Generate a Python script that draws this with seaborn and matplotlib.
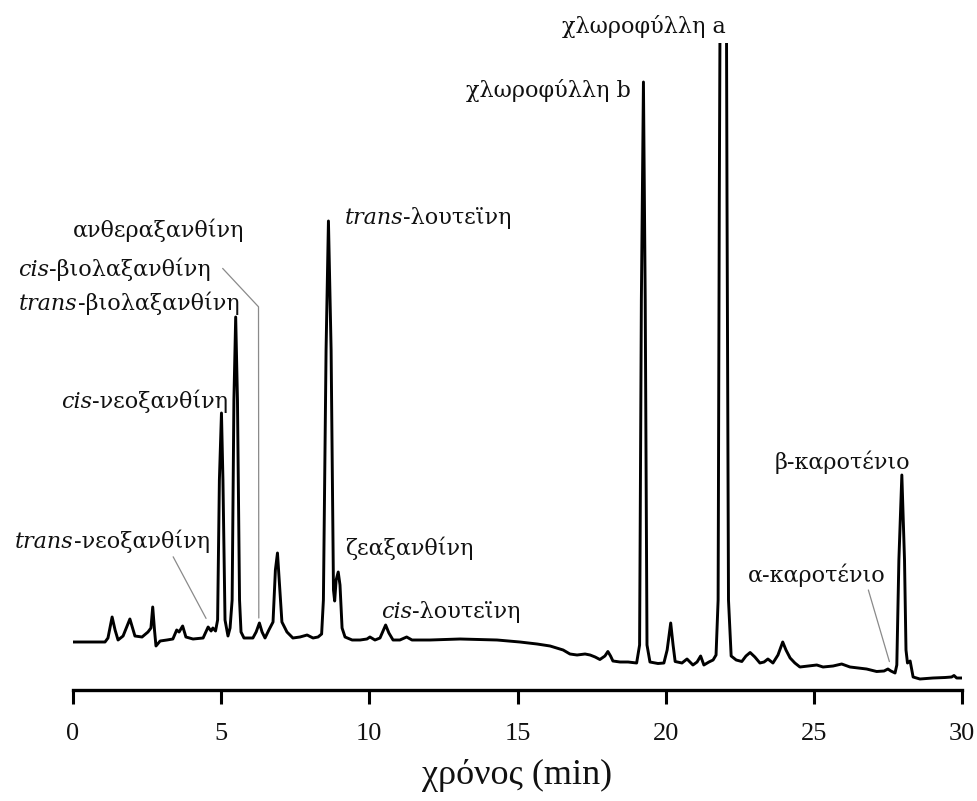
import matplotlib
matplotlib.use("Agg")
import matplotlib.pyplot as plt
from matplotlib.transforms import ScaledTranslation
import seaborn as sns
import pandas as pd

# ---------------- data ----------------
time_min = [0.00, 1.08, 1.18, 1.32, 1.42, 1.52, 1.69, 1.92, 2.09, 2.33,
            2.53, 2.63, 2.69, 2.75, 2.80, 2.94, 3.17, 3.37, 3.50, 3.58,
            3.70, 3.81, 4.05, 4.39, 4.56, 4.66, 4.72, 4.81, 4.88, 4.94,
            5.01, 5.06, 5.13, 5.23, 5.30, 5.37, 5.43, 5.49, 5.55, 5.62,
            5.67, 5.77, 6.07, 6.18, 6.29, 6.38, 6.48, 6.61, 6.75, 6.83,
            6.90, 6.96, 7.05, 7.22, 7.42, 7.66, 7.90, 8.10, 8.27, 8.39,
            8.45, 8.54, 8.62, 8.71, 8.79, 8.83, 8.88, 8.95, 9.01, 9.08,
            9.18, 9.42, 9.69, 9.92, 10.02, 10.19, 10.36, 10.55, 10.66, 10.80,
            11.03, 11.26, 11.44, 12.05, 13.06, 14.31, 15.08, 15.66, 16.10, 16.54,
            16.77, 17.01, 17.28, 17.45, 17.62, 17.78, 17.95, 18.05, 18.14, 18.22,
            18.46, 18.73, 19.02, 19.12, 19.18, 19.25, 19.31, 19.37, 19.47, 19.74,
            19.94, 20.05, 20.17, 20.25, 20.32, 20.55, 20.72, 20.92, 21.06, 21.18,
            21.29, 21.46, 21.60, 21.70, 21.77, 21.81, 21.85, 21.95, 22.04, 22.07,
            22.12, 22.21, 22.38, 22.57, 22.71, 22.85, 23.01, 23.18, 23.32, 23.45,
            23.62, 23.79, 23.95, 24.06, 24.20, 24.36, 24.53, 24.80, 25.10, 25.31,
            25.65, 25.94, 26.22, 26.49, 26.78, 27.12, 27.37, 27.50, 27.60, 27.74,
            27.80, 27.87, 27.97, 28.06, 28.11, 28.16, 28.25, 28.35, 28.58, 29.02,
            29.43, 29.65, 29.73, 29.82, 30.00]

signal = [0, 0, 2, 12.5, 6, 1, 3, 11.5, 3, 2.5,
          5, 7, 17.5, 6, -2, 0.5, 1, 1.5, 6, 5,
          8, 2.5, 1.5, 2, 7.5, 5.5, 7, 5.5, 11, 81,
          114.5, 81, 11, 3, 7, 21, 121, 162.5, 121, 21,
          5, 2, 2, 5, 9.5, 5, 2, 6, 10, 36,
          44.5, 31, 10, 5, 2, 2.5, 3.5, 2, 2.5, 4,
          21, 146, 210.5, 146, 26, 20.5, 31, 35, 28.5, 7,
          2.5, 1, 1, 1.5, 2.5, 1, 2, 8.5, 4.5, 1,
          1, 2.5, 1, 1, 1.5, 1, 0, -1, -2, -4,
          -6, -6.5, -6, -6.5, -7.5, -8.75, -7, -4.75, -7, -9.5,
          -10, -10, -10.5, -1.5, 171, 280, 171, -1.5, -10, -10.75,
          -10.5, -4, 9.5, -1.5, -9.75, -10.5, -8.5, -11.5, -10, -7,
          -11.5, -10, -9, -6.5, 21, 221, 371, 471, 371, 221,
          21, -7, -9, -9.75, -7, -5.25, -7.5, -10.5, -10, -8.5,
          -10.5, -6.5, 0, -4, -8, -10.5, -12.5, -12, -11.5, -12.5,
          -12, -11, -12.5, -13, -13.5, -14.75, -14.5, -13.5, -14.5, -15.5,
          -11.5, 41, 83.5, 41, -4, -10.5, -9.5, -17.5, -18.5, -18,
          -17.75, -17.5, -16.75, -18, -18]

label_prefix = ["", "", "trans", "", "cis", "trans", "cis",
                "trans", "", "cis", "", ""]
label_name = ["χλωροφύλλη a", "χλωροφύλλη b", "-λουτεϊνη", "ανθεραξανθίνη",
              "-βιολαξανθίνη", "-βιολαξανθίνη", "-νεοξανθίνη", "-νεοξανθίνη",
              "ζεαξανθίνη", "-λουτεϊνη", "β-καροτένιο", "α-καροτένιο"]
label_x = [19.27, 16.06, 11.98, 2.90, 1.38, 1.89, 2.40, 1.33, 11.36, 12.76, 25.95, 25.11]
label_y = [304.5, 272.6, 209.0, 202.5, 183.0, 166.0, 117.0, 47.0, 43.5, 12.0, 86.5, 30.0]

leader_x = [[5.05, 6.26, 6.27], [3.38, 4.49], [26.84, 27.55]]
leader_y = [[186.8, 167.6, 12.0], [42.6, 11.8], [26.0, -9.8]]

x_ticks = [0, 5, 10, 15, 20, 25, 30]
x_label = "χρόνος (min)"

# ---------------- figure ----------------
sns.set_theme(style="white")
plt.rcParams["font.family"] = ["Liberation Serif", "DejaVu Serif"]

W, H = 977, 801
fig = plt.figure(figsize=(W / 100, H / 100), dpi=100)
ax = fig.add_axes([73 / W, 111 / H, 889 / W, 647 / H])

df = pd.DataFrame({"t": time_min, "s": signal})
sns.lineplot(data=df, x="t", y="s", sort=False, estimator=None, ax=ax,
             color="black", linewidth=2.1, solid_joinstyle="round")

for lx, ly in zip(leader_x, leader_y):
    ax.plot(lx, ly, color="#8a8a8a", linewidth=0.9, clip_on=False)

ax.set_xlim(0, 30)
ax.set_ylim(-24, 299.5)
ax.set_xticks(x_ticks)
ax.set_xticklabels([str(v) for v in x_ticks])
ax.set_yticks([])
ax.set_ylabel("")
ax.set_xlabel(x_label, fontsize=26, family=["Liberation Serif", "DejaVu Serif"],
              labelpad=10, color="#111111")
sns.despine(ax=ax, left=True, top=True, right=True)
ax.spines["bottom"].set_linewidth(2.4)
ax.spines["bottom"].set_color("black")
ax.tick_params(axis="x", direction="out", length=10, width=2.2, color="black",
               pad=14, labelsize=19, labelcolor="#111111", bottom=True)

renderer = fig.canvas.get_renderer()


def place_label(x, y, prefix, name, size=16):
    parts = []
    if prefix:
        parts.append((prefix, "italic"))
    parts.append((name, "normal"))
    texts = [ax.text(x, y, s, style=st, family="DejaVu Serif", fontsize=size,
                     ha="left", va="baseline", color="#111111", clip_on=False)
             for s, st in parts]
    widths = [t.get_window_extent(renderer).width for t in texts]
    off = -sum(widths) / 2
    for t, w in zip(texts, widths):
        t.set_transform(ax.transData +
                        ScaledTranslation(off / fig.dpi, 0, fig.dpi_scale_trans))
        off += w


for p, n, x, y in zip(label_prefix, label_name, label_x, label_y):
    place_label(x, y, p, n)

fig.savefig("out.png", dpi=100)
